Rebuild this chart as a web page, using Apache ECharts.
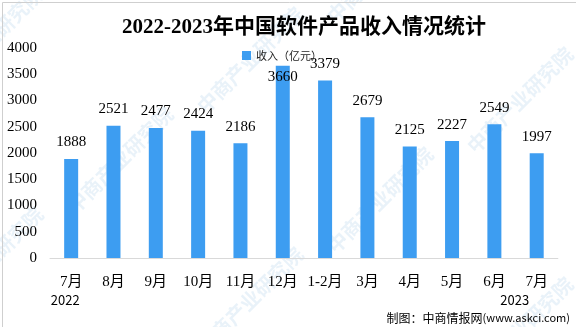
<!DOCTYPE html>
<html>
<head>
<meta charset="utf-8">
<script src="https://cdn.jsdelivr.net/npm/echarts@6/dist/echarts.min.js"></script>
<style>
  html, body { margin: 0; padding: 0; background: #fff; }
  #chart { width: 576px; height: 327px; }
</style>
</head>
<body>
<div id="chart"></div>
<script>
// Monthly software product revenue, 100 million yuan
const categories = ['7月', '8月', '9月', '10月', '11月', '12月', '1-2月', '3月', '4月', '5月', '6月', '7月'];
const revenue = [1888, 2521, 2477, 2424, 2186, 3660, 3379, 2679, 2125, 2227, 2549, 1997];
const yearLabels = { 0: '2022', 11: '2023' };
const yTicks = [0, 500, 1000, 1500, 2000, 2500, 3000, 3500, 4000];

const serif = '"Liberation Serif", "Noto Sans CJK SC", serif';
const sans = '"Noto Sans CJK SC", "Liberation Sans", sans-serif';

// faint diagonal brand marks in the background
const marks = [];
const markPos = [[120, 160], [250, 60], [250, 300], [380, 200], [520, 100], [520, 330], [-10, 260], [-10, 40], [380, -30]];
markPos.forEach(function (p) {
  marks.push({
    type: 'text', x: p[0], y: p[1], rotation: Math.PI / 4, z: -1, silent: true,
    style: { text: '中商产业研究院', font: 'bold 20px ' + sans, fill: 'rgba(120,175,220,0.16)', textAlign: 'center', textVerticalAlign: 'middle' }
  });
});

// the tallest bar keeps its label just under its top so it clears the legend
const barData = revenue.map(function (v) {
  if (v === Math.max.apply(null, revenue)) {
    return { value: v, label: { position: 'insideTop', distance: 4 } };
  }
  return v;
});

const chart = echarts.init(document.getElementById('chart'), null, { renderer: 'canvas' });
chart.setOption({
  animation: false,
  backgroundColor: '#fff',
  title: {
    text: '2022-2023年中国软件产品收入情况统计',
    left: 117, top: 12,
    textStyle: { fontFamily: serif, fontSize: 21, fontWeight: 'bold', color: '#000' }
  },
  legend: {
    data: ['收入（亿元）'],
    left: 237, top: 45,
    itemWidth: 9, itemHeight: 9, itemGap: 3,
    icon: 'rect',
    textStyle: { fontFamily: sans, fontSize: 11, color: '#222' }
  },
  grid: { left: 50, right: 15, top: 48, bottom: 69 },
  xAxis: {
    type: 'category',
    data: categories,
    axisLine: { lineStyle: { color: '#d9d9d9', width: 1 } },
    axisTick: { show: false },
    axisLabel: {
      interval: 0, margin: 15, color: '#000',
      fontFamily: serif, fontSize: 15, lineHeight: 18,
      formatter: function (v, i) {
        if (yearLabels[i] !== undefined) {
          return v + '\n{y' + i + '|' + yearLabels[i] + '}';
        }
        return v;
      },
      rich: {
        y0: { fontFamily: sans, fontSize: 13, color: '#000', padding: [0, 12, 0, 0] },
        y11: { fontFamily: sans, fontSize: 13, color: '#000', padding: [0, 44, 0, 0] }
      }
    }
  },
  yAxis: {
    type: 'value',
    min: yTicks[0], max: yTicks[yTicks.length - 1], interval: 500,
    axisLine: { show: false },
    axisTick: { show: false },
    splitLine: { show: false },
    axisLabel: {
      color: '#000', fontFamily: serif, fontSize: 15, margin: 13,
      formatter: function (v) { return String(v); }
    }
  },
  series: [{
    name: '收入（亿元）',
    type: 'bar',
    data: barData,
    barWidth: 14,
    itemStyle: { color: '#3d9df1' },
    label: {
      show: true, position: 'top', distance: 9,
      color: '#000', fontFamily: serif, fontSize: 15
    }
  }],
  graphic: marks.concat([
    {
      type: 'rect', left: 0, top: 0, z: 10, silent: true,
      shape: { width: 575, height: 326 },
      style: { fill: 'none', stroke: '#cfcfcf', lineWidth: 1 }
    },
    {
      type: 'text', right: 6, bottom: 3, z: 10,
      style: {
        text: '{a|制图：中商情报网}{b|(www.askci.com)}',
        rich: {
          a: { fontFamily: sans, fontSize: 12, color: '#000' },
          b: { fontFamily: sans, fontSize: 11, color: '#000' }
        }
      }
    }
  ])
});
</script>
</body>
</html>
